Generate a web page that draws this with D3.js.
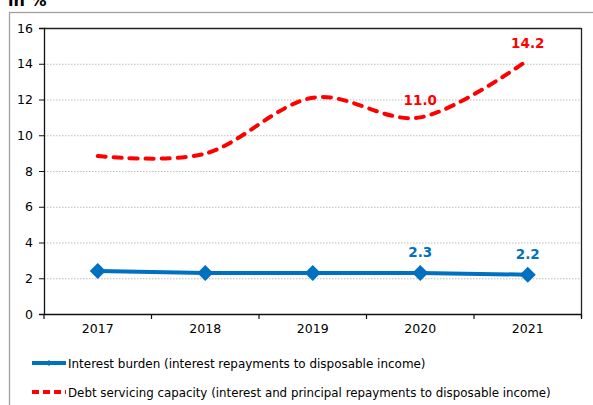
<!DOCTYPE html>
<html><head><meta charset="utf-8">
<script src="https://cdn.jsdelivr.net/npm/d3@7"></script>
<style>body{margin:0;background:#fff;} svg{display:block;font-family:"DejaVu Sans",Tahoma,sans-serif;}</style>
</head><body>
<svg id="c" width="593" height="405"></svg>
<script>
const years = ["2017","2018","2019","2020","2021"];
const interestBurden = [2.4, 2.3, 2.3, 2.3, 2.2];
const debtServicing = [8.84, 8.97, 12.1, 11.0, 14.2];
const yTicks = [0,2,4,6,8,10,12,14,16];
const labelledYears = ["2020","2021"];
const seriesNames = ["Interest burden (interest repayments to disposable income)",
  "Debt servicing capacity (interest and principal repayments to disposable income)"];
const unitLabel = "in %";

const svg = d3.select("#c");
const W = 593, H = 405;
const m = {left:44, right:581.5, top:28, bottom:314};
const blue = "#0070C0", red = "#FF0000";

// outer frame
svg.append("rect").attr("x",9.5).attr("y",12.5).attr("width",W+10).attr("height",H)
  .attr("fill","none").attr("stroke","#a0a0a0").attr("stroke-width",1.3);
svg.append("text").attr("x",8).attr("y",6).attr("font-size",16).attr("font-weight","bold")
  .attr("fill","#000").text(unitLabel);

const x = d3.scaleBand().domain(years).range([m.left, m.right]);
const y = d3.scaleLinear().domain([0,16]).range([m.bottom, m.top]);

// gridlines
svg.append("g").selectAll("line").data(yTicks.filter(t=>t>0 && t<16)).join("line")
  .attr("x1",m.left).attr("x2",m.right).attr("y1",d=>y(d)+0.5).attr("y2",d=>y(d)+0.5)
  .attr("stroke","#bdbdbd").attr("stroke-width",1).attr("stroke-dasharray","1.5,1.5");

// plot border top/right
svg.append("line").attr("x1",m.left).attr("x2",m.right).attr("y1",m.top+0.5).attr("y2",m.top+0.5).attr("stroke","#222").attr("stroke-width",1.3);
svg.append("line").attr("x1",m.right).attr("x2",m.right).attr("y1",m.top).attr("y2",m.bottom+4).attr("stroke","#222").attr("stroke-width",1.3);

// y axis
const ya = svg.append("g").attr("transform",`translate(${m.left},0)`)
  .call(d3.axisLeft(y).tickValues(yTicks).tickSize(5).tickPadding(6).tickFormat(d3.format("d")));
ya.select(".domain").attr("stroke","#111").attr("stroke-width",1.3);
ya.selectAll(".tick line").attr("stroke","#111");
ya.selectAll("text").attr("font-size",12.5).attr("fill","#000").attr("font-family","DejaVu Sans, sans-serif");

// x axis
const xa = svg.append("g").attr("transform",`translate(0,${m.bottom})`)
  .call(d3.axisBottom(x).tickSize(0).tickPadding(10));
xa.select(".domain").attr("stroke","#111").attr("stroke-width",1.3);
xa.selectAll("text").attr("font-size",12.5).attr("fill","#000").attr("font-family","DejaVu Sans, sans-serif");
// ticks at band boundaries
const bounds = years.map(d=>x(d)).concat([x(years[years.length-1])+x.bandwidth()]);
svg.append("g").selectAll("line").data(bounds).join("line")
  .attr("x1",d=>d).attr("x2",d=>d).attr("y1",m.bottom).attr("y2",m.bottom+5)
  .attr("stroke","#111").attr("stroke-width",1.2);

const cx = d => x(d) + x.bandwidth()/2;

// red smooth dashed
const redLine = d3.line().x((d,i)=>cx(years[i])).y(d=>y(d)).curve(d3.curveCardinal.tension(0));
svg.append("path").attr("d",redLine(debtServicing)).attr("fill","none").attr("stroke",red)
  .attr("stroke-width",4).attr("stroke-dasharray","8,8").attr("stroke-linecap","round");

// blue line
const blueLine = d3.line().x((d,i)=>cx(years[i])).y(d=>y(d));
svg.append("path").attr("d",blueLine(interestBurden)).attr("fill","none").attr("stroke",blue).attr("stroke-width",4);
svg.append("g").selectAll("path").data(interestBurden).join("path")
  .attr("transform",(d,i)=>`translate(${cx(years[i])},${y(d)})`)
  .attr("d","M0,-8L8,0L0,8L-8,0Z").attr("fill",blue);

// data labels
years.forEach((yr,i)=>{
  if(!labelledYears.includes(yr)) return;
  svg.append("text").attr("x",cx(yr)).attr("y",y(interestBurden[i])-16).attr("text-anchor","middle")
    .attr("font-size",13.5).attr("font-weight","bold").attr("fill",blue).text(interestBurden[i].toFixed(1));
  svg.append("text").attr("x",cx(yr)).attr("y",y(debtServicing[i])-12).attr("text-anchor","middle")
    .attr("font-size",13.5).attr("font-weight","bold").attr("fill",red).text(debtServicing[i].toFixed(1));
});

// legend
const lg = svg.append("g");
const legendRows = [{name:seriesNames[0], color:blue, dash:null, yy:363, target:358},
                    {name:seriesNames[1], color:red, dash:"7,4", yy:392, target:483}];
legendRows.forEach(r=>{
  lg.append("line").attr("x1",32).attr("x2",66).attr("y1",r.yy).attr("y2",r.yy)
    .attr("stroke",r.color).attr("stroke-width",4).attr("stroke-dasharray",r.dash);
  if(!r.dash) lg.append("path").attr("transform",`translate(49,${r.yy})`).attr("d","M0,-3L3,0L0,3L-3,0Z").attr("fill",r.color);
  const t = lg.append("text").attr("x",68).attr("y",r.yy+4.5).attr("font-size",12).attr("fill","#000").text(r.name);
  const w = t.node().getComputedTextLength();
  t.attr("font-size", 12*r.target/w);
});
</script>
</body></html>
